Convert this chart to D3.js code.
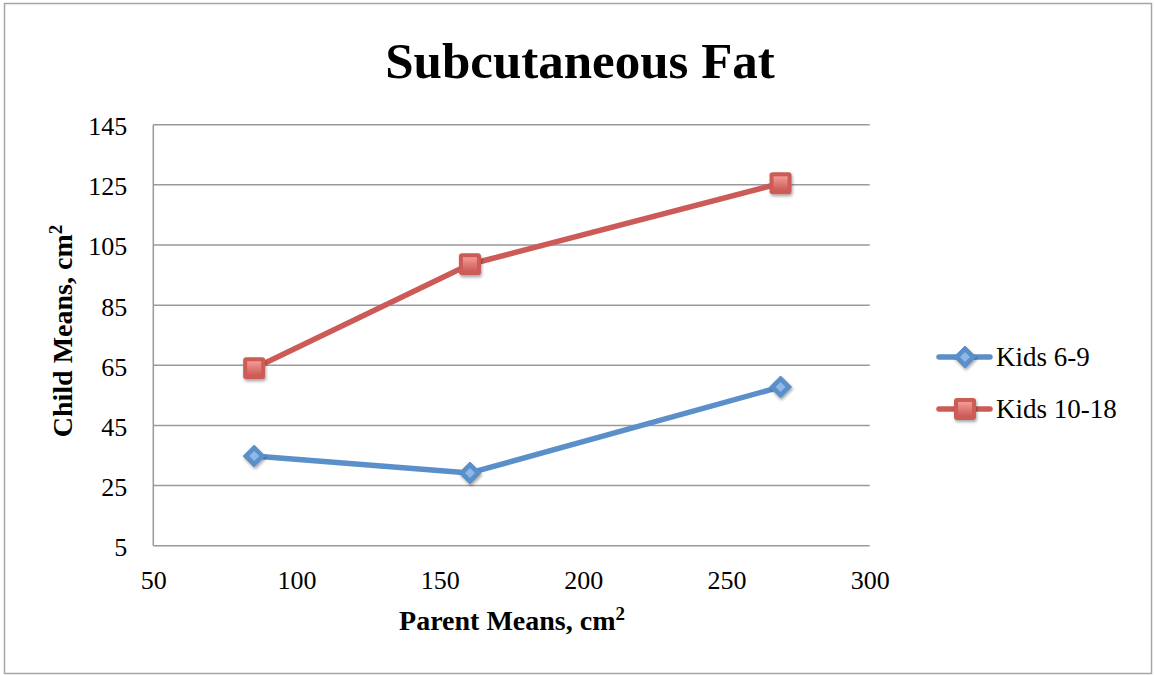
<!DOCTYPE html>
<html><head><meta charset="utf-8">
<script src="https://cdn.jsdelivr.net/npm/d3@7"></script>
<style>body{margin:0;background:#fff;} text{font-family:"Liberation Serif","DejaVu Serif",serif;}</style>
</head><body><svg id="c" width="1155" height="675"></svg>
<script>
const parentMeans = [85.2, 160.5, 268.9];
const kids6to9 = [34.8, 29.2, 57.8];
const kids10to18 = [64.0, 98.6, 125.5];
const seriesNames = ["Kids 6-9", "Kids 10-18"];
const xTicks = [50, 100, 150, 200, 250, 300];
const yTicks = [5, 25, 45, 65, 85, 105, 125, 145];

const svg = d3.select("#c");
const defs = svg.append("defs");
const colors = ["#5a8fc9", "#cc5b57"];
const lightC = ["#8fb8e8", "#f49a96"];
colors.forEach((c,i)=>{
  const g = defs.append("linearGradient").attr("id","g"+i).attr("x1",0).attr("y1",0).attr("x2",0).attr("y2",1);
  g.append("stop").attr("offset","0%").attr("stop-color",lightC[i]);
  g.append("stop").attr("offset","100%").attr("stop-color",c);
});
const f = defs.append("filter").attr("id","sh").attr("x","-50%").attr("y","-50%").attr("width","200%").attr("height","200%");
f.append("feDropShadow").attr("dx",1).attr("dy",2).attr("stdDeviation",1.5).attr("flood-color","#000").attr("flood-opacity",0.35);

svg.append("rect").attr("x",4.5).attr("y",3.5).attr("width",1147).attr("height",670)
  .attr("fill","#fff").attr("stroke","#a6a6a6").attr("stroke-width",1.5);

const L=153.3, R=869.7, T=124.7, B=545.7;
const x = d3.scaleLinear().domain([50,300]).range([L,R]);
const y = d3.scaleLinear().domain([5,145]).range([B,T]);

// gridlines
svg.append("g").selectAll("line").data(yTicks).join("line")
  .attr("x1",L).attr("x2",R).attr("y1",d=>y(d)).attr("y2",d=>y(d))
  .attr("stroke","#9a9a9a").attr("stroke-width",1.5);
svg.append("line").attr("x1",L).attr("x2",L).attr("y1",T).attr("y2",B).attr("stroke","#9a9a9a").attr("stroke-width",1.5);

const yAxis = svg.append("g").attr("transform",`translate(${L},0)`)
  .call(d3.axisLeft(y).tickValues(yTicks).tickSize(0).tickPadding(26));
yAxis.select(".domain").remove();
yAxis.selectAll("text").attr("font-size",26).attr("dy","0.38em").attr("fill","#000").style("font-family","'Liberation Serif',serif");

const xAxis = svg.append("g").attr("transform",`translate(0,${B})`)
  .call(d3.axisBottom(x).tickValues(xTicks).tickSize(0).tickPadding(25));
xAxis.select(".domain").remove();
xAxis.selectAll("text").attr("font-size",26).attr("fill","#000").style("font-family","'Liberation Serif',serif");

svg.append("text").attr("x",580).attr("y",78).attr("text-anchor","middle")
  .attr("font-size",51).attr("font-weight","bold").text("Subcutaneous Fat");

const xt = svg.append("text").attr("x",512).attr("y",630).attr("text-anchor","middle")
  .attr("font-size",28).attr("font-weight","bold");
xt.append("tspan").text("Parent Means, cm");
xt.append("tspan").attr("dy",-10).attr("font-size",19).text("2");

const yt = svg.append("text").attr("transform","translate(72,331) rotate(-90)").attr("text-anchor","middle")
  .attr("font-size",28).attr("font-weight","bold");
yt.append("tspan").text("Child Means, cm");
yt.append("tspan").attr("dy",-10).attr("font-size",19).text("2");

const series = [kids6to9, kids10to18];
const line = d3.line().x(d=>x(d[0])).y(d=>y(d[1]));

function marker(g, i, cx, cy){
  if(i===0){
    g.append("path").attr("d",`M${cx},${cy-11}L${cx+11},${cy}L${cx},${cy+11}L${cx-11},${cy}Z`)
      .attr("fill",colors[0]).attr("stroke",colors[0]).attr("stroke-width",1).attr("stroke-linejoin","round").attr("filter","url(#sh)");
    g.append("path").attr("d",`M${cx},${cy-5}L${cx+5},${cy}L${cx},${cy+5}L${cx-5},${cy}Z`).attr("fill",lightC[0]);
  } else {
    g.append("rect").attr("x",cx-11).attr("y",cy-11).attr("width",22).attr("height",22).attr("rx",3)
      .attr("fill",colors[1]).attr("filter","url(#sh)");
    g.append("rect").attr("x",cx-7).attr("y",cy-7).attr("width",14).attr("height",14)
      .attr("fill","url(#g1)");
  }
}

series.forEach((vals,i)=>{
  const pts = parentMeans.map((p,j)=>[p, vals[j]]);
  svg.append("path").attr("d",line(pts)).attr("fill","none").attr("stroke",colors[i])
    .attr("stroke-width",5.5).attr("stroke-linecap","round").attr("stroke-linejoin","round");
  const g = svg.append("g");
  pts.forEach(p=>marker(g,i,x(p[0]),y(p[1])));
});

// legend
seriesNames.forEach((n,i)=>{
  const ly = 357 + i*52;
  svg.append("line").attr("x1",939).attr("x2",990).attr("y1",ly).attr("y2",ly)
    .attr("stroke",colors[i]).attr("stroke-width",5.5).attr("stroke-linecap","round");
  marker(svg.append("g"), i, 965, ly);
  svg.append("text").attr("x",996).attr("y",ly+9).attr("font-size",27).text(n);
});
</script></body></html>
